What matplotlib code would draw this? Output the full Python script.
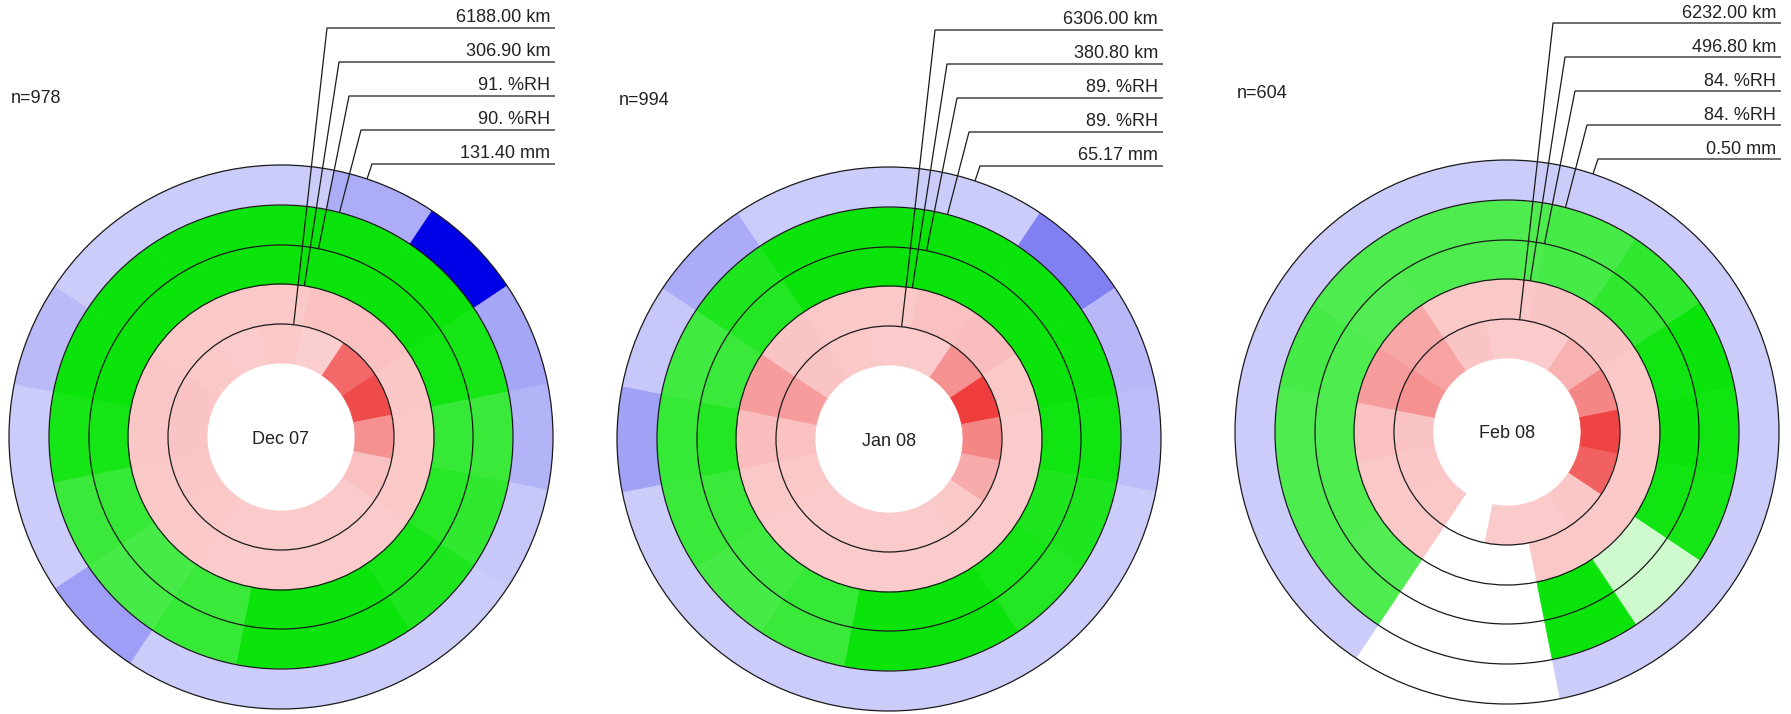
import numpy as np
import matplotlib
matplotlib.use("Agg")
import matplotlib.pyplot as plt
from matplotlib.patches import Circle

W, H, DPI = 1791, 714, 100
nan = np.nan

# ---------------- data ----------------
months = ["Dec 07", "Jan 08", "Feb 08"]
counts = [978, 994, 604]
wind_run_km = [6188.00, 6306.00, 6232.00]
gust_run_km = [306.90, 380.80, 496.80]
rh_inner = [91, 89, 84]
rh_outer = [90, 89, 84]
rain_mm = [131.40, 65.17, 0.50]

directions = ["N", "NNE", "NE", "ENE", "E", "ESE", "SE", "SSE",
              "S", "SSW", "SW", "WSW", "W", "WNW", "NW", "NNW"]

# relative intensity of each direction cell (0..1), NaN = no data
dec_wind = [0.25, 0.22, 0.68, 0.82, 0.50, 0.28, 0.24, 0.24, 0.24, 0.24, 0.25, 0.26, 0.27, 0.27, 0.25, 0.24]
dec_gust = [0.25, 0.28, 0.28, 0.26, 0.25, 0.25, 0.24, 0.24, 0.24, 0.24, 0.25, 0.25, 0.26, 0.26, 0.25, 0.25]
dec_rh1 = [1.0, 1.0, 1.0, 0.97, 0.82, 0.88, 0.95, 1.0, 1.0, 0.80, 0.75, 0.82, 0.95, 1.0, 1.0, 1.0]
dec_rh2 = [1.0, 1.0, 1.0, 0.95, 0.80, 0.85, 0.92, 1.0, 1.0, 0.82, 0.75, 0.80, 0.95, 1.0, 1.0, 1.0]
dec_rain = [0.20, 0.32, 1.00, 0.35, 0.30, 0.22, 0.20, 0.20, 0.20, 0.20, 0.38, 0.20, 0.20, 0.27, 0.20, 0.20]

jan_wind = [0.24, 0.24, 0.50, 0.88, 0.55, 0.38, 0.25, 0.24, 0.24, 0.24, 0.24, 0.25, 0.28, 0.45, 0.27, 0.25]
jan_gust = [0.25, 0.28, 0.30, 0.25, 0.24, 0.24, 0.24, 0.24, 0.24, 0.24, 0.24, 0.25, 0.30, 0.45, 0.27, 0.25]
jan_rh1 = [1.0, 1.0, 1.0, 1.0, 0.97, 0.92, 0.95, 1.0, 1.0, 0.82, 0.78, 0.80, 0.90, 0.80, 0.90, 1.0]
jan_rh2 = [1.0, 1.0, 1.0, 1.0, 0.97, 0.92, 0.90, 1.0, 1.0, 0.80, 0.75, 0.80, 0.82, 0.78, 0.92, 1.0]
jan_rain = [0.20, 0.20, 0.50, 0.28, 0.26, 0.20, 0.20, 0.20, 0.20, 0.20, 0.20, 0.20, 0.37, 0.22, 0.33, 0.20]

feb_wind = [0.24, 0.24, 0.35, 0.55, 0.85, 0.72, 0.26, 0.24, 0.24, nan, 0.25, 0.26, 0.27, 0.50, 0.42, 0.27]
feb_gust = [0.25, 0.27, 0.27, 0.25, 0.25, 0.25, 0.25, 0.25, nan, nan, 0.25, 0.25, 0.28, 0.45, 0.40, 0.25]
feb_rh1 = [0.72, 0.75, 0.85, 0.97, 1.0, 0.97, 0.20, 1.0, nan, nan, 0.70, 0.72, 0.72, 0.72, 0.70, 0.72]
feb_rh2 = [0.72, 0.75, 0.85, 1.0, 0.97, 0.95, 0.20, 1.0, nan, nan, 0.72, 0.72, 0.72, 0.75, 0.72, 0.72]
feb_rain = [0.20, 0.20, 0.20, 0.20, 0.20, 0.20, 0.20, 0.20, nan, nan, 0.20, 0.20, 0.20, 0.20, 0.20, 0.20]

panels = [
    [dec_wind, dec_gust, dec_rh1, dec_rh2, dec_rain],
    [jan_wind, jan_gust, jan_rh1, jan_rh2, jan_rain],
    [feb_wind, feb_gust, feb_rh1, feb_rh2, feb_rain],
]

# ---------------- layout / style ----------------
centers = [(281, 437), (889, 439), (1507, 432)]
radii = [74, 113, 153, 192, 232, 272]
ring_bases = [(237, 35, 35), (237, 35, 35), (10, 228, 10), (10, 228, 10), (0, 0, 230)]
leader_dx = [46, 58, 68, 80, 91]
leader_dy = [-409, -375, -341, -307, -273]
line_end_dx = 274
text_end_dx = 269
FONT = "Liberation Sans"
FS = 13
TXT = "#222222"
LINE = "#1a1a1a"


def cell_color(f, base):
    w = np.array([255.0, 255.0, 255.0])
    b = np.array(base, dtype=float)
    return tuple(((w + f * (b - w)) / 255.0).tolist())


def labels_for(i):
    return [f"{wind_run_km[i]:.2f} km", f"{gust_run_km[i]:.2f} km",
            f"{rh_inner[i]:d}. %RH", f"{rh_outer[i]:d}. %RH",
            f"{rain_mm[i]:.2f} mm"]


fig = plt.figure(figsize=(W / DPI, H / DPI), dpi=DPI)
fig.patch.set_facecolor("white")

n_dir = len(directions)
theta = np.arange(n_dir) * 2 * np.pi / n_dir
width = 2 * np.pi / n_dir
R = radii[-1]

for p, (cx, cy) in enumerate(centers):
    ax = fig.add_axes([(cx - R) / W, 1 - (cy + R) / H, 2 * R / W, 2 * R / H],
                      projection="polar")
    ax.set_theta_zero_location("N")
    ax.set_theta_direction(-1)
    ax.set_ylim(0, R)
    ax.set_axis_off()
    for ring, vals in enumerate(panels[p]):
        vals = np.asarray(vals, dtype=float)
        ok = ~np.isnan(vals)
        cols = [cell_color(v, ring_bases[ring]) for v in vals[ok]]
        r0, r1 = radii[ring], radii[ring + 1]
        ax.bar(theta[ok], r1 - r0, width=width, bottom=r0, color=cols,
               edgecolor=cols, linewidth=0.5, align="center")

# overlay for ring outlines, leaders and text (pixel coordinates)
ov = fig.add_axes([0, 0, 1, 1])
ov.set_xlim(0, W)
ov.set_ylim(H, 0)
ov.set_axis_off()
ov.patch.set_alpha(0)
ov.set_zorder(10)

for p, (cx, cy) in enumerate(centers):
    for r in radii[1:]:
        ov.add_patch(Circle((cx, cy), r, fill=False, edgecolor=LINE, lw=0.9))
    labs = labels_for(p)
    for i in range(5):
        dx, dy = leader_dx[i], leader_dy[i]
        ang = np.arctan2(dx, -dy)
        rs = radii[i + 1]
        sx, sy = cx + rs * np.sin(ang), cy - rs * np.cos(ang)
        ov.plot([sx, cx + dx, cx + line_end_dx], [sy, cy + dy, cy + dy],
                color=LINE, lw=0.9, solid_joinstyle="miter",
                solid_capstyle="butt")
        ov.text(cx + text_end_dx, cy + dy - 5.5, labs[i], ha="right",
                va="baseline", fontsize=FS, family=FONT, color=TXT)
    ov.text(cx - 270, cy - 334, f"n={counts[p]}", ha="left", va="baseline",
            fontsize=FS, family=FONT, color=TXT)
    ov.text(cx, cy + 6.5, months[p], ha="center", va="baseline",
            fontsize=FS, family=FONT, color=TXT)

fig.savefig("out.png", dpi=DPI, facecolor="white")
